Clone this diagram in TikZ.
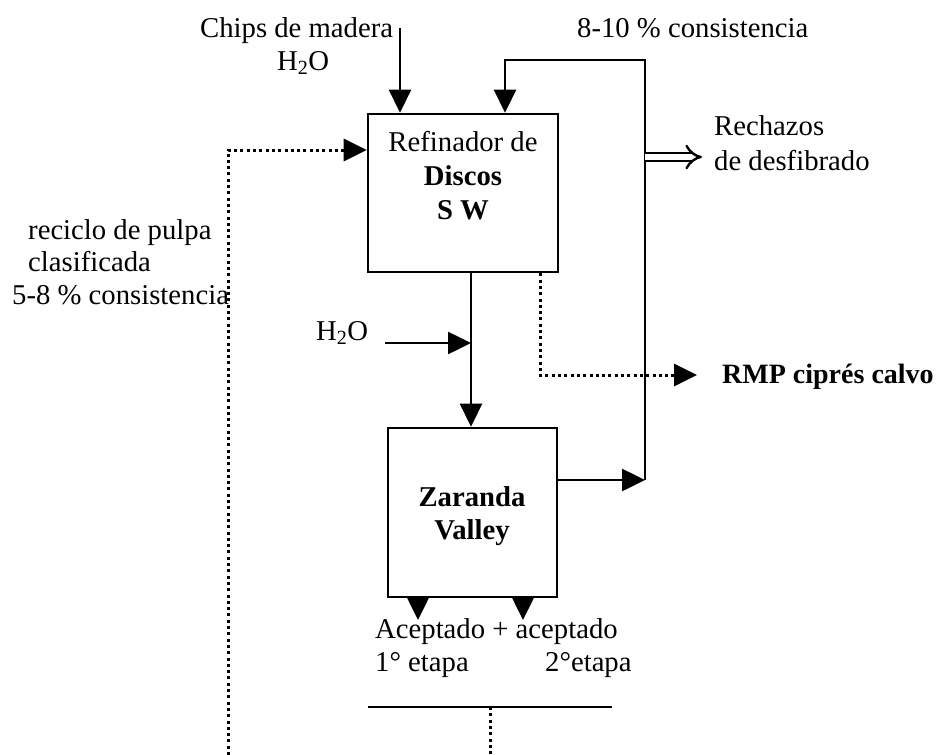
\documentclass[tikz,border=0pt]{standalone}
\usepackage{fontspec}
\setmainfont{Liberation Serif}
\usetikzlibrary{arrows.meta}
\tikzset{
  box/.style={draw, line width=2.6pt, inner sep=0pt},
  lbl/.style={inner sep=0pt, anchor=base west, font=\fontsize{28.7}{33}\selectfont},
  blbl/.style={inner sep=0pt, anchor=base, font=\fontsize{28.7}{33}\selectfont\bfseries},
  flow/.style={line width=2.6pt},
  arr/.style={line width=2.6pt, -{Triangle[length=23pt,width=22pt]}},
  dotline/.style={line width=3pt, dash pattern=on 3pt off 3.3pt},
  dotarr/.style={dotline, -{Triangle[length=23pt,width=22pt]}},
  dblarr/.style={line width=2.4pt, double, double distance=6pt, -{Implies[length=13pt,width=24pt]}}
}
\begin{document}
\begin{tikzpicture}[x=1pt,y=-1pt]
\useasboundingbox (0,0) rectangle (943,755);
% boxes
\node[box, minimum width=190pt, minimum height=158pt] (ref) at (463,193) {};
\node[box, minimum width=169pt, minimum height=169pt] (zar) at (472.5,512.5) {};
% box texts
\node[blbl, font=\fontsize{28.7}{33}\selectfont] (refA) at (463,151) {Refinador de};
\node[blbl] (refB) at (463,185) {Discos};
\node[blbl] (refC) at (463,219) {S W};
\node[blbl] (zarA) at (472,506) {Zaranda};
\node[blbl] (zarB) at (472,539) {Valley};
% labels
\node[lbl] (chips) at (200,37) {Chips de madera};
\node[lbl] (h2oa) at (277,70) {H\textsubscript{2}O};
\node[lbl] (cons) at (577,37) {8-10 \% consistencia};
\node[lbl] (rech1) at (714,135) {Rechazos};
\node[lbl] (rech2) at (714,170) {de desfibrado};
\node[lbl] (rec1) at (28,239) {reciclo de pulpa};
\node[lbl] (rec2) at (28,271) {clasificada};
\node[lbl] (rec3) at (12,304) {5-8 \% consistencia};
\node[lbl] (h2ob) at (316,340) {H\textsubscript{2}O};
\node[lbl, font=\fontsize{28}{33}\selectfont\bfseries] (rmp) at (722,383) {RMP ciprés calvo};
\node[lbl] (acep) at (375,638) {Aceptado + aceptado};
\node[lbl] (et1) at (375,671) {1° etapa};
\node[lbl] (et2) at (545,671) {2°etapa};
% coordinates
\coordinate (chipsin) at (400,28);
\coordinate (loopL) at (505,60);
\coordinate (loopR) at (645,60);
\coordinate (junc) at (645,480);
\coordinate (rejA) at (645,157);
\coordinate (rejB) at (702,157);
\coordinate (recBot) at (228,755);
\coordinate (recTop) at (228,150);
\coordinate (flowx) at (471,0);
\coordinate (h2oin) at (385,343);
\coordinate (h2oj) at (471,343);
\coordinate (rmpx) at (540,375);
\coordinate (rmpend) at (697,375);
\coordinate (ac1) at (418,620);
\coordinate (ac2) at (523,620);
\coordinate (barL) at (368,707);
\coordinate (barR) at (612,707);
\coordinate (barM) at (490,707);
\coordinate (barBot) at (490,755);
% connectors
\draw[arr] (chipsin) -- (chipsin |- ref.north);
\draw[arr] (junc) -- (loopR) -- (loopL) -- (loopL |- ref.north);
\draw[arr] (zar.east |- junc) -- (junc);
\draw[dblarr] (rejA) -- (rejB);
\draw[dotarr] (recBot) -- (recTop) -- (ref.west |- recTop);
\draw[arr] (flowx |- ref.south) -- (flowx |- zar.north);
\draw[arr] (h2oin) -- (h2oj);
\draw[dotarr] (rmpx |- ref.south) -- (rmpx) -- (rmpend);
\draw[arr] (ac1 |- zar.south) -- (ac1);
\draw[arr] (ac2 |- zar.south) -- (ac2);
\draw[flow] (barL) -- (barR);
\draw[dotline] (barM) -- (barBot);
\end{tikzpicture}
\end{document}
